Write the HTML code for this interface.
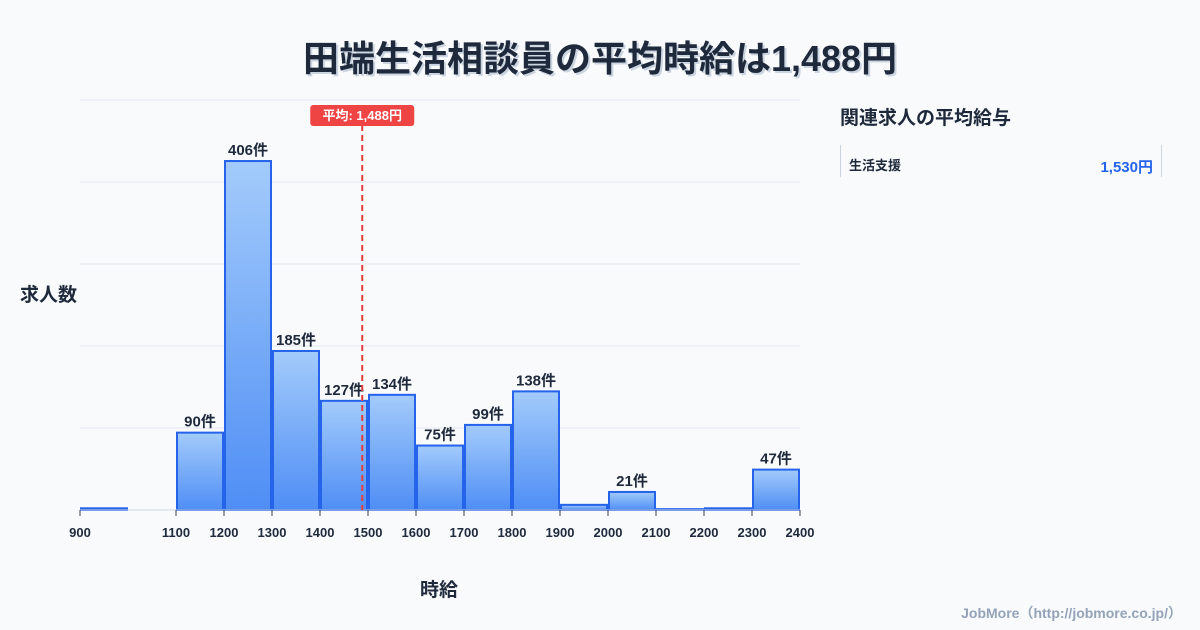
<!DOCTYPE html>
<html><head><meta charset="utf-8"><style>
body{margin:0;width:1200px;height:630px;background:#f8fafc;font-family:"Liberation Sans","Noto Sans CJK JP",sans-serif;overflow:hidden;position:relative;color:#1e293b}
.t{position:absolute}
</style></head><body>
<div class="t" style="left:0;width:1200px;top:30px;text-align:center;font-size:36px;font-weight:bold;color:#1e293b;text-shadow:2px 2px 0 #cbd5e1">田端生活相談員の平均時給は1,488円</div>
<div class="t" style="left:20px;top:280px;font-size:19px;font-weight:bold">求人数</div>
<div class="t" style="left:420px;top:575px;font-size:19px;font-weight:bold">時給</div>
<div class="t" style="left:840px;top:103px;font-size:19px;font-weight:bold">関連求人の平均給与</div>
<div class="t" style="left:840px;top:145px;width:320px;height:32px;border-left:1px solid #cbd5e1;border-right:1px solid #cbd5e1">
<span style="position:absolute;left:8px;top:10px;font-size:13px;font-weight:bold">生活支援</span>
<span style="position:absolute;right:8px;top:11px;font-size:15px;font-weight:bold;color:#2563eb">1,530円</span></div>
<div class="t" style="right:18px;top:603px;font-size:14px;font-weight:bold;color:#94a3b8">JobMore（http://jobmore.co.jp/）</div>
<svg id="c" width="1200" height="630" style="position:absolute;left:0;top:0">
<defs><linearGradient id="g" x1="0" y1="0" x2="0" y2="1"><stop offset="0" stop-color="#a3cbfb"/><stop offset="1" stop-color="#4f8ef5"/></linearGradient></defs>
</svg>
<script>
const bins=[900,1000,1100,1200,1300,1400,1500,1600,1700,1800,1900,2000,2100,2200,2300];
const counts=[2,0,90,406,185,127,134,75,99,138,6,21,1,2,47];
const showLabel=[false,false,true,true,true,true,true,true,true,true,false,true,false,false,true];
const ticks=[900,1100,1200,1300,1400,1500,1600,1700,1800,1900,2000,2100,2200,2300,2400];
const avg=1488;
const yMax=477;
const ns="http://www.w3.org/2000/svg",svg=document.getElementById('c');
const X=v=>80+(v-900)*720/1500, Y=v=>510-v*410/yMax;
function el(t,a){const e=document.createElementNS(ns,t);for(const k in a)e.setAttribute(k,a[k]);svg.appendChild(e);return e;}
for(let i=0;i<=5;i++){const g=el('line',{x1:80,x2:800,y1:510-i*82,y2:510-i*82,stroke:'#e2e8f0'});

}
bins.forEach((b,i)=>{if(!counts[i])return;const x=X(b)+1,w=X(b+100)-X(b)-2,y=Y(counts[i]);
const r=el('rect',{x:x,y:y,width:w,height:510-y,fill:'url(#g)',stroke:'#2563eb','stroke-width':2});


if(showLabel[i]){const t=el('text',{x:x+w/2,y:y-6,'text-anchor':'middle','font-size':15,'font-weight':'bold',fill:'#1e293b'});t.textContent=counts[i]+'件';

}});
const ax=el('line',{x1:80,x2:800,y1:510,y2:510,stroke:'#cbd5e1'});


ticks.forEach(v=>{const l=el('line',{x1:X(v),x2:X(v),y1:510,y2:516,stroke:'#334155'});


const t=el('text',{x:X(v),y:537,'text-anchor':'middle','font-size':13,'font-weight':'bold',fill:'#1e293b'});t.textContent=v;

});
const ml=el('line',{x1:X(avg),x2:X(avg),y1:125,y2:510,stroke:'#e53e3e','stroke-width':2,'stroke-dasharray':'6,4'});


const mb=el('rect',{x:X(avg)-52,y:105,width:104,height:21,rx:3,fill:'#ef4444'});


const mt=el('text',{x:X(avg),y:120,'text-anchor':'middle','font-size':13,'font-weight':'bold',fill:'#fff'});mt.textContent='平均: 1,488円';


</script>
</body></html>
